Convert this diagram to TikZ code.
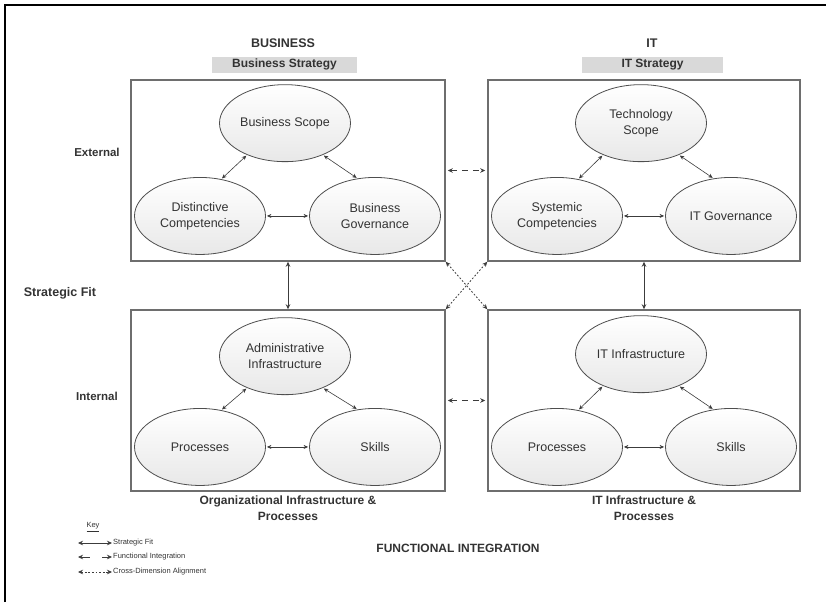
\documentclass[tikz,border=0pt]{standalone}
\usepackage{fontspec}
\setmainfont{Liberation Sans}
\usetikzlibrary{arrows.meta, positioning, shapes.geometric}

\definecolor{boxline}{HTML}{6E6E6E}
\definecolor{ovalline}{HTML}{4E4E4E}
\definecolor{wirecol}{HTML}{3C3C3C}
\definecolor{barfill}{HTML}{D9D9D9}
\definecolor{textcol}{HTML}{333333}

\tikzset{
    quadrant/.style={
        rectangle,
        draw=boxline,
        line width=1.5pt,
        minimum height=181pt,
        inner sep=0pt
    },
    concept/.style={
        ellipse,
        draw=ovalline,
        line width=0.8pt,
        top color=white,
        bottom color=black!9,
        minimum width=131pt,
        minimum height=77pt,
        inner sep=0pt,
        align=center,
        text=textcol,
        font=\fontsize{12.5}{16}\selectfont
    },
    colhead/.style={
        font=\bfseries\fontsize{12.5}{14}\selectfont,
        text=textcol
    },
    headbar/.style={
        rectangle,
        fill=barfill,
        minimum height=16pt,
        inner sep=0pt,
        text=textcol,
        font=\bfseries\fontsize{12}{14}\selectfont
    },
    sidelabel/.style={
        align=center,
        text=textcol,
        font=\bfseries\fontsize{12}{16}\selectfont
    },
    linkwire/.style={
        draw=wirecol,
        line width=0.6pt,
        {Stealth[length=4.5pt, width=4pt]}-{Stealth[length=4.5pt, width=4pt]},
        shorten <=1pt,
        shorten >=1pt
    },
    fitwire/.style={
        draw=wirecol,
        line width=0.8pt,
        {Stealth[length=5pt, width=4.5pt]}-{Stealth[length=5pt, width=4.5pt]}
    },
    funcwire/.style={
        fitwire,
        dash pattern=on 6pt off 5pt
    },
    crosswire/.style={
        fitwire,
        dash pattern=on 1.8pt off 1.8pt
    },
    keytext/.style={
        inner sep=1pt,
        text=textcol,
        font=\fontsize{7.5}{9}\selectfont
    }
}

\begin{document}
\begin{tikzpicture}[x=1pt, y=-1pt]
\useasboundingbox (0,0) rectangle (826,602);

% Page frame
\draw[line width=1.2pt] (5,602) -- (5,5) -- (826,5);

% Column headings
\node[colhead] (biz_head) at (283,43) {BUSINESS};
\node[headbar, minimum width=145pt] (biz_bar) at (284.5,64.5) {Business Strategy};
\node[colhead] (it_head) at (652,43) {IT};
\node[headbar, minimum width=141pt] (it_bar) at (652.5,64.5) {IT Strategy};

% Quadrants
\node[quadrant, minimum width=314pt] (biz_strat) at (288,170.5) {};
\node[quadrant, minimum width=312pt] (it_strat) at (644,170.5) {};
\node[quadrant, minimum width=314pt] (org_infra) at (288,400.5) {};
\node[quadrant, minimum width=312pt] (it_infra) at (644,400.5) {};

% Row labels
\node[sidelabel, font=\bfseries\fontsize{11.5}{14}\selectfont] (external) at (97,152) {External};
\node[sidelabel, font=\bfseries\fontsize{12.5}{15}\selectfont] (strat_fit) at (60,293) {Strategic Fit};
\node[sidelabel, font=\bfseries\fontsize{11.5}{14}\selectfont] (internal) at (97,396) {Internal};

% Business strategy
\node[concept, below=5pt of biz_strat.north, xshift=-3pt] (biz_scope) {Business Scope};
\node[concept, below=15pt of biz_scope, xshift=-85pt] (dist_comp) {Distinctive\\Competencies};
\node[concept, below=15pt of biz_scope, xshift=90pt] (biz_gov) {Business\\Governance};

% IT strategy
\node[concept, below=5pt of it_strat.north, xshift=-3pt] (tech_scope) {Technology\\Scope};
\node[concept, below=15pt of tech_scope, xshift=-84pt] (sys_comp) {Systemic\\Competencies};
\node[concept, below=15pt of tech_scope, xshift=90pt] (it_gov) {IT Governance};

% Organizational infrastructure
\node[concept, below=8pt of org_infra.north, xshift=-3pt] (admin_infra) {Administrative\\Infrastructure};
\node[concept, below=13pt of admin_infra, xshift=-85pt] (org_proc) {Processes};
\node[concept, below=13pt of admin_infra, xshift=90pt] (org_skills) {Skills};

% IT infrastructure
\node[concept, below=6pt of it_infra.north, xshift=-3pt] (it_arch) {IT Infrastructure};
\node[concept, below=15pt of it_arch, xshift=-84pt] (it_proc) {Processes};
\node[concept, below=15pt of it_arch, xshift=90pt] (it_skills) {Skills};

% Links inside the quadrants
\draw[linkwire] (biz_scope.220) -- (dist_comp.60);
\draw[linkwire] (biz_scope.320) -- (biz_gov.115);
\draw[linkwire] (dist_comp) -- (biz_gov);

\draw[linkwire] (tech_scope.220) -- (sys_comp.60);
\draw[linkwire] (tech_scope.320) -- (it_gov.115);
\draw[linkwire] (sys_comp) -- (it_gov);

\draw[linkwire] (admin_infra.220) -- (org_proc.60);
\draw[linkwire] (admin_infra.320) -- (org_skills.115);
\draw[linkwire] (org_proc) -- (org_skills);

\draw[linkwire] (it_arch.220) -- (it_proc.60);
\draw[linkwire] (it_arch.320) -- (it_skills.115);
\draw[linkwire] (it_proc) -- (it_skills);

% Strategic fit
\draw[fitwire] (biz_strat.south) -- (org_infra.north);
\draw[fitwire] (it_strat.south) -- (it_infra.north);

% Functional integration
\draw[funcwire, shorten <=2pt, shorten >=2pt] (biz_strat.east) -- (it_strat.west);
\draw[funcwire, shorten <=2pt, shorten >=2pt] (org_infra.east) -- (it_infra.west);

% Cross-dimension alignment
\draw[crosswire] (biz_strat.south east) -- (it_infra.north west);
\draw[crosswire] (it_strat.south west) -- (org_infra.north east);

% Bottom labels
\node[sidelabel, below=1pt of org_infra] (org_label) {Organizational Infrastructure \&\\Processes};
\node[sidelabel, below=1pt of it_infra] (it_label) {IT Infrastructure \&\\Processes};
\node[sidelabel] (func_int) at (458,548) {FUNCTIONAL INTEGRATION};

% Key
\node[keytext] (key_title) at (93,527) {\underline{Key}};
\node[keytext, anchor=west] (key_fit) at (112,543) {Strategic Fit};
\node[keytext, anchor=west] (key_func) at (112,557) {Functional Integration};
\node[keytext, anchor=west] (key_cross) at (112,572) {Cross-Dimension Alignment};
\coordinate (key_fit_end) at (78,543);
\coordinate (key_func_end) at (78,557);
\coordinate (key_cross_end) at (78,572);
\draw[fitwire, line width=0.6pt] (key_fit_end) -- (key_fit.west);
\draw[funcwire, line width=0.6pt, dash pattern=on 9pt off 12pt] (key_func_end) -- (key_func.west);
\draw[crosswire, line width=0.6pt] (key_cross_end) -- (key_cross.west);

\end{tikzpicture}
\end{document}
